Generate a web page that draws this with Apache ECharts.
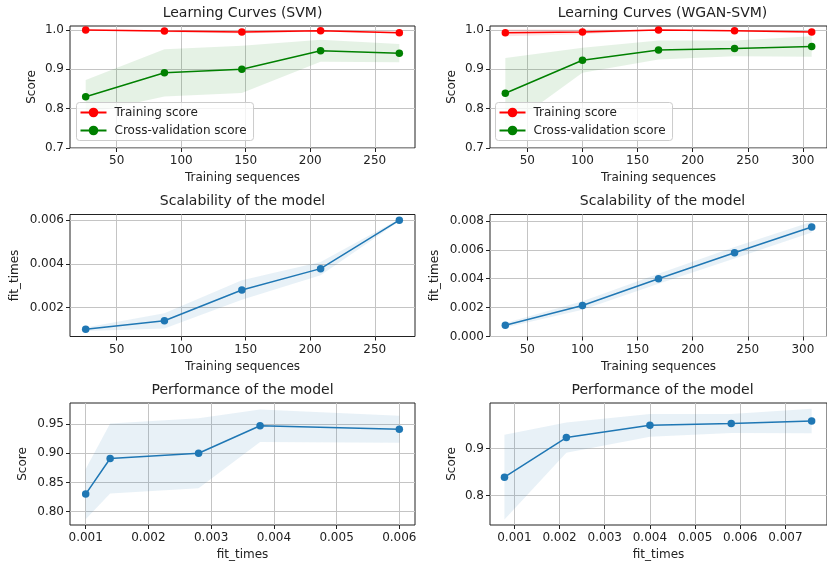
<!DOCTYPE html>
<html>
<head>
<meta charset="utf-8">
<script src="https://cdn.jsdelivr.net/npm/echarts@6/dist/echarts.min.js"></script>
<style>
html, body { margin: 0; padding: 0; background: #fff; }
#chart { width: 827px; height: 567px; }
</style>
</head>
<body>
<div id="chart"></div>
<script>
// training set sizes
var svmSizes = [26, 87, 147, 208, 269];
var wganSizes = [30, 100, 169, 238, 308];

// SVM: mean / std over the folds
var svmTrainMean = [1.0, 0.997, 0.995, 0.998, 0.993];
var svmTrainStd = [0.0005, 0.003, 0.004, 0.002, 0.003];
var svmTestMean = [0.830, 0.891, 0.900, 0.947, 0.941];
var svmTestStd = [0.043, 0.060, 0.060, 0.028, 0.023];
var svmFitMean = [0.00100, 0.00139, 0.00280, 0.00378, 0.00600];
var svmFitStd = [0.00008, 0.00035, 0.00045, 0.00030, 0.00005];

// WGAN-SVM
var wganTrainMean = [0.993, 0.995, 1.0, 0.998, 0.995];
var wganTrainStd = [0.009, 0.006, 0.0005, 0.002, 0.003];
var wganTestMean = [0.839, 0.923, 0.949, 0.953, 0.958];
var wganTestStd = [0.090, 0.032, 0.024, 0.020, 0.026];
var wganFitMean = [0.00078, 0.00215, 0.00400, 0.00580, 0.00758];
var wganFitStd = [0.00015, 0.00030, 0.00035, 0.00040, 0.00037];

// tick labels
var sizeTicksSvm = [50, 100, 150, 200, 250];
var sizeTicksWgan = [50, 100, 150, 200, 250, 300];
var scoreTicks = [0.7, 0.8, 0.9, 1.0];
var fitTicksSvm = [0.002, 0.004, 0.006];
var fitTicksWgan = [0, 0.002, 0.004, 0.006, 0.008];
var perfTicksSvm = [0.80, 0.85, 0.90, 0.95];
var perfTicksWgan = [0.8, 0.9];
var perfXTicksSvm = [0.001, 0.002, 0.003, 0.004, 0.005, 0.006];
var perfXTicksWgan = [0.001, 0.002, 0.003, 0.004, 0.005, 0.006, 0.007];

var titles = ['Learning Curves (SVM)', 'Learning Curves (WGAN-SVM)',
	'Scalability of the model', 'Scalability of the model',
	'Performance of the model', 'Performance of the model'];

var FONT = 'DejaVu Sans';
var TXT = '#222';
var colLeft = [70, 490];
var rowTop = [26, 214.5, 403];
var W = 345, H = 122;

function pairs(xs, ys) {
	var out = [];
	for (var i = 0; i < xs.length; i++) out.push([xs[i], ys[i]]);
	return out;
}

function axisCfg(gi, min, max, ticks, digits, name, gap, isY) {
	return {
		type: 'value',
		gridIndex: gi,
		min: min,
		max: max,
		name: name,
		nameLocation: 'middle',
		nameGap: gap,
		nameTextStyle: { fontFamily: FONT, fontSize: 12, color: TXT },
		axisLine: { show: false },
		axisTick: { show: true, inside: false, length: 4, customValues: ticks,
			lineStyle: { color: '#222', width: 1 } },
		axisLabel: { show: true, customValues: ticks, margin: isY ? 6 : 7,
			fontFamily: FONT, fontSize: 12, color: TXT,
			formatter: function (v) { return v.toFixed(digits); } },
		splitLine: { show: true, lineStyle: { color: '#c4c4c4', width: 1 } }
	};
}

// mean +- std band, one polygon drawn through the axis scales
function band(gi, xs, mean, std, color) {
	var rows = [];
	for (var i = 0; i < xs.length; i++) rows.push([xs[i], mean[i] - std[i], mean[i] + std[i]]);
	return {
		type: 'custom', xAxisIndex: gi, yAxisIndex: gi, silent: true, clip: true, z: 1,
		data: rows,
		encode: { x: 0, y: [1, 2] },
		renderItem: function (params, api) {
			if (params.dataIndex !== 0) return null;
			var pts = [];
			for (var k = 0; k < rows.length; k++) pts.push(api.coord([rows[k][0], rows[k][2]]));
			for (var k2 = rows.length - 1; k2 >= 0; k2--) pts.push(api.coord([rows[k2][0], rows[k2][1]]));
			return { type: 'polygon', shape: { points: pts }, style: { fill: color } };
		}
	};
}

function curve(gi, name, xs, ys, color) {
	return {
		type: 'line', name: name, xAxisIndex: gi, yAxisIndex: gi,
		data: pairs(xs, ys),
		symbol: 'circle', symbolSize: 7.5, showAllSymbol: true,
		lineStyle: { color: color, width: 1.5 },
		itemStyle: { color: color },
		z: 3
	};
}

var grids = [], titleList = [], xAxes = [], yAxes = [], series = [];
for (var r = 0; r < 3; r++) {
	for (var c = 0; c < 2; c++) {
		var gi = r * 2 + c;
		grids.push({
			left: colLeft[c], top: rowTop[r], width: W, height: H,
			show: true, borderColor: '#222', borderWidth: 1, backgroundColor: 'transparent'
		});
		titleList.push({
			text: titles[gi],
			left: colLeft[c] + W / 2, top: rowTop[r] - 20, textAlign: 'center', padding: 0,
			textStyle: { fontFamily: FONT, fontSize: 14, fontWeight: 'normal', color: TXT }
		});
	}
}

// x axes
xAxes.push(axisCfg(0, 13.85, 281.15, sizeTicksSvm, 0, 'Training sequences', 24, false));
xAxes.push(axisCfg(1, 16.1, 321.9, sizeTicksWgan, 0, 'Training sequences', 24, false));
xAxes.push(axisCfg(2, 13.85, 281.15, sizeTicksSvm, 0, 'Training sequences', 24, false));
xAxes.push(axisCfg(3, 16.1, 321.9, sizeTicksWgan, 0, 'Training sequences', 24, false));
xAxes.push(axisCfg(4, 0.00075, 0.00625, perfXTicksSvm, 3, 'fit_times', 24, false));
xAxes.push(axisCfg(5, 0.00046, 0.00792, perfXTicksWgan, 3, 'fit_times', 24, false));

// y axes
yAxes.push(axisCfg(0, 0.7, 1.01, scoreTicks, 1, 'Score', 32, true));
yAxes.push(axisCfg(1, 0.7, 1.01, scoreTicks, 1, 'Score', 32, true));
yAxes.push(axisCfg(2, 0.00067, 0.00626, fitTicksSvm, 3, 'fit_times', 49, true));
yAxes.push(axisCfg(3, 0, 0.00845, fitTicksWgan, 3, 'fit_times', 49, true));
yAxes.push(axisCfg(4, 0.777, 0.986, perfTicksSvm, 2, 'Score', 41, true));
yAxes.push(axisCfg(5, 0.7375, 0.9964, perfTicksWgan, 1, 'Score', 32, true));

var RED_BAND = 'rgba(255,0,0,0.1)', GREEN_BAND = 'rgba(0,128,0,0.1)', BLUE_BAND = 'rgba(31,119,180,0.1)';

// learning curves
series.push(band(0, svmSizes, svmTrainMean, svmTrainStd, RED_BAND));
series.push(band(0, svmSizes, svmTestMean, svmTestStd, GREEN_BAND));
series.push(curve(0, 'Training score', svmSizes, svmTrainMean, 'red'));
series.push(curve(0, 'Cross-validation score', svmSizes, svmTestMean, 'green'));

series.push(band(1, wganSizes, wganTrainMean, wganTrainStd, RED_BAND));
series.push(band(1, wganSizes, wganTestMean, wganTestStd, GREEN_BAND));
series.push(curve(1, 'Training score', wganSizes, wganTrainMean, 'red'));
series.push(curve(1, 'Cross-validation score', wganSizes, wganTestMean, 'green'));

// scalability
series.push(band(2, svmSizes, svmFitMean, svmFitStd, BLUE_BAND));
series.push(curve(2, 'fit2', svmSizes, svmFitMean, '#1f77b4'));
series.push(band(3, wganSizes, wganFitMean, wganFitStd, BLUE_BAND));
series.push(curve(3, 'fit3', wganSizes, wganFitMean, '#1f77b4'));

// performance
series.push(band(4, svmFitMean, svmTestMean, svmTestStd, BLUE_BAND));
series.push(curve(4, 'perf4', svmFitMean, svmTestMean, '#1f77b4'));
series.push(band(5, wganFitMean, wganTestMean, wganTestStd, BLUE_BAND));
series.push(curve(5, 'perf5', wganFitMean, wganTestMean, '#1f77b4'));

function legendAt(left) {
	return {
		data: ['Training score', 'Cross-validation score'],
		orient: 'vertical', left: left, top: 102.5,
		itemWidth: 26, itemHeight: 12, itemGap: 6,
		padding: [4, 7, 4, 3],
		borderColor: '#cccccc', borderWidth: 1, borderRadius: 3,
		backgroundColor: 'rgba(255,255,255,0.8)',
		selectedMode: false,
		textStyle: { fontFamily: FONT, fontSize: 12, color: TXT, padding: [0, 0, 0, 3] }
	};
}

var option = {
	animation: false,
	backgroundColor: '#fff',
	title: titleList,
	grid: grids,
	xAxis: xAxes,
	yAxis: yAxes,
	legend: [legendAt(76.5), legendAt(495.5)],
	series: series
};

var chart = echarts.init(document.getElementById('chart'));
chart.setOption(option, true);
</script>
</body>
</html>
